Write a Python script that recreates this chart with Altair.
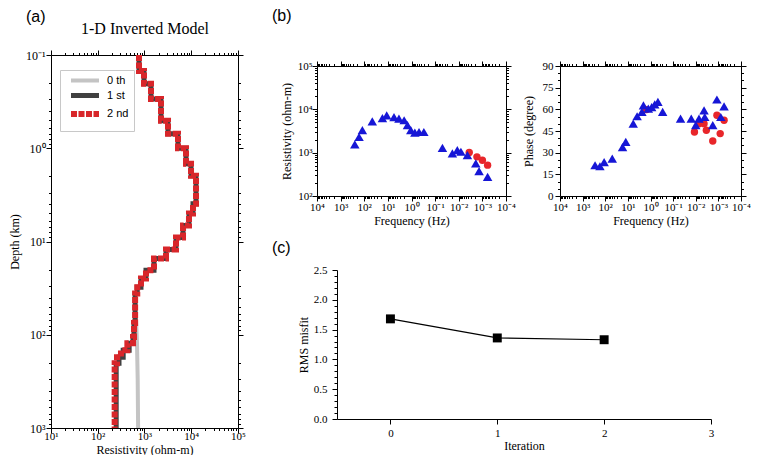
import altair as alt
import pandas as pd

# ---------------- (a) 1-D inverted model ----------------
layer_tops_km = [0.1, 0.148, 0.204, 0.296, 0.508, 0.70, 1.0, 1.47, 1.97, 3.93,
                 5.02, 6.75, 9.06, 12.2, 15.2, 20.4, 24.9, 31.0, 36.0, 75.0,
                 106.0, 123.0, 147.0, 174.0, 202.0]
model_bottom_km = 1000.0
res_2nd = [763, 975, 1377, 2254, 3184, 5208, 7730, 9890, 12650, 10900,
           8940, 6670, 4720, 2885, 1596, 1076, 841, 700, 630, 596,
           568, 430, 314, 258, 230]
res_1st = [763, 975, 1377, 2254, 3184, 5208, 7730, 9890, 12650, 10900,
           8940, 6670, 4720, 2885, 1596, 1076, 841, 700, 630, 596,
           568, 470, 350, 285, 248]
depth_0th = [60, 120, 300, 1000]
res_0th = [650, 690, 715, 730]
model_names = ["0 th", "1 st", "2 nd"]

# ---------------- (b) apparent resistivity and phase ----------------
rho_tri_freq = [251, 166, 120, 45.7, 17, 11.2, 5.5, 3.4, 2.05, 1.48, 1.07, 0.72,
                0.48, 0.30, 0.049, 0.0186, 0.0115, 0.0081, 0.0043, 0.0019, 0.00138, 0.0006]
rho_tri_val = [1550, 2300, 3300, 5250, 6300, 7250, 6600, 6100, 5600, 4300, 3300, 2900,
               3000, 3000, 1290, 960, 1140, 1050, 875, 565, 375, 277]
rho_dot_freq = [0.0036, 0.0017, 0.001, 0.0006]
rho_dot_val = [1010, 800, 670, 515]

ph_tri_freq = [282, 172, 112, 49, 17.2, 12.4, 5.8, 3.9, 2.4, 2.05, 1.25, 0.89, 0.65,
               0.47, 0.29, 0.047, 0.0158, 0.01, 0.0072, 0.0043, 0.004, 0.00177,
               0.00116, 0.00056, 0.00078]
ph_tri_val = [21.3, 20.6, 23.5, 25.9, 33.9, 37.4, 50.1, 55.2, 58.2, 62.8, 60.5, 61.6, 63.5,
              65.1, 58.2, 53.6, 53.6, 49.0, 53.6, 59.3, 54.7, 49.0, 66.8, 62.1, 54.7]
ph_dot_freq = [1.5, 0.0114, 0.0072, 0.0043, 0.0034, 0.00177, 0.00116, 0.00083, 0.00056]
ph_dot_val = [59.8, 44.3, 50.1, 50.1, 45.5, 38.1, 55.9, 43.2, 52.4]

# ---------------- (c) RMS misfit ----------------
iteration = [0, 1, 2]
rms_misfit = [1.68, 1.36, 1.33]

# tick definitions
a_res_decades = [1, 2, 3, 4, 5]
a_depth_decades = [-1, 0, 1, 2, 3]
b_freq_decades = [-4, -3, -2, -1, 0, 1, 2, 3, 4]
b_rho_decades = [2, 3, 4, 5]


def log_ticks(decades):
    vals = []
    for e in decades[:-1]:
        for k in range(1, 10):
            vals.append(k * 10.0 ** e)
    vals.append(10.0 ** decades[-1])
    return vals


SERIF = "Liberation Serif"
SANS = "Liberation Sans"
EXP = "round(log(datum.value)/LN10)"
LOGTEST = f"abs(log(datum.value)/LN10 - {EXP}) < 0.001"
LOGLAB = (f"{LOGTEST} ? '10' + ({EXP} < 0 ? '\u207b' : '') + "
          f"substring('\u2070\u00b9\u00b2\u00b3\u2074\u2075', abs({EXP}), abs({EXP}) + 1) : ''")
TS_LOG = {"condition": {"test": LOGTEST, "value": 5}, "value": 2.5}


def log_axis(orient, values, title=None, labels=True, title_pad=4, label_pad=1, fs=11):
    kw = dict(orient=orient, values=values, tickSize=TS_LOG, labels=labels,
              grid=False, labelFlush=False, labelOverlap=False, labelPadding=label_pad,
              titlePadding=title_pad, title=title, labelFontSize=fs)
    if labels:
        kw["labelExpr"] = LOGLAB
    return alt.Axis(**kw)


# ---------- panel (a) ----------
rows = []
for i, (d, r) in enumerate(zip(depth_0th, res_0th)):
    rows.append({"model": "0 th", "res": r, "depth": d, "ord": i})
bounds = layer_tops_km + [model_bottom_km]
for name, res in (("1 st", res_1st), ("2 nd", res_2nd)):
    k = 0
    for i, r in enumerate(res):
        for d in (bounds[i], bounds[i + 1]):
            rows.append({"model": name, "res": r, "depth": d, "ord": k})
            k += 1
df_a = pd.DataFrame(rows)

xa = alt.Scale(type="log", domain=[10, 100000], nice=False)
ya = alt.Scale(type="log", domain=[0.1, 1000], reverse=True, nice=False)
cs = alt.Scale(domain=model_names, range=["#c4c4c4", "#404040", "#d8262a"])
ds = alt.Scale(domain=model_names, range=[[1, 0], [1, 0], [6, 1.5]])
ws = alt.Scale(domain=model_names, range=[4, 6, 4])
leg = alt.Legend(title=None, orient="none", legendX=9, legendY=15,
                 strokeColor="#c8c8c8", fillColor="white", padding=5,
                 symbolType="M0,0H9.33", symbolSize=36, labelFont=SANS,
                 labelFontSize=11, rowPadding=-4, labelOffset=30)

xt_a = log_ticks(a_res_decades)
yt_a = log_ticks(a_depth_decades)


def model_layer(name, xaxis, yaxis):
    return alt.Chart(df_a).transform_filter(alt.datum.model == name).mark_line().encode(
        x=alt.X("res:Q", scale=xa, axis=xaxis),
        y=alt.Y("depth:Q", scale=ya, axis=yaxis),
        order="ord:Q",
        color=alt.Color("model:N", scale=cs, legend=leg),
        strokeDash=alt.StrokeDash("model:N", scale=ds, legend=leg),
        strokeWidth=alt.StrokeWidth("model:N", scale=ws, legend=leg),
    )


ax_a_top = alt.Axis(orient="top", values=xt_a, tickSize=TS_LOG, labels=False, grid=False,
                    title="1-D Inverted Model", titlePadding=13, titleFontSize=16)
a_chart = alt.layer(
    model_layer("0 th", log_axis("bottom", xt_a, "Resistivity (ohm-m)", title_pad=3, label_pad=-3, fs=11),
                log_axis("left", yt_a, "Depth (km)", title_pad=4, label_pad=1, fs=12)),
    model_layer("1 st", ax_a_top, log_axis("right", yt_a, labels=False)),
    model_layer("2 nd", None, None),
).resolve_axis(x="independent", y="independent").properties(
    width=187, height=373,
    title=alt.TitleParams("(a)", anchor="start", frame="group", dx=-25, offset=-4))

# ---------- panel (b) ----------
df_rt = pd.DataFrame({"f": rho_tri_freq, "v": rho_tri_val})
df_rd = pd.DataFrame({"f": rho_dot_freq, "v": rho_dot_val})
df_pt = pd.DataFrame({"f": ph_tri_freq, "v": ph_tri_val})
df_pd = pd.DataFrame({"f": ph_dot_freq, "v": ph_dot_val})

xb = alt.Scale(type="log", domain=[1e-4, 1e4], reverse=True, nice=False)
yb = alt.Scale(type="log", domain=[100, 100000], nice=False)
yp = alt.Scale(domain=[0, 90], nice=False)
xt_b = log_ticks(b_freq_decades)
yt_b = log_ticks(b_rho_decades)
ph_ticks = list(range(0, 91, 5))
TS_PH = {"condition": {"test": "datum.value % 15 == 0", "value": 5}, "value": 2.5}

RED = "#e8262a"
BLUE = "#1616d6"

b1 = alt.layer(
    alt.Chart(df_rd).mark_point(shape="circle", filled=True, color=RED, size=55, opacity=1).encode(
        x=alt.X("f:Q", scale=xb, axis=log_axis("bottom", xt_b, "Frequency (Hz)", title_pad=3, label_pad=0)),
        y=alt.Y("v:Q", scale=yb, axis=log_axis("left", yt_b, "Resistivity (ohm-m)", title_pad=4, label_pad=0))),
    alt.Chart(df_rt).mark_point(shape="triangle-up", filled=True, color=BLUE, size=90, opacity=1).encode(
        x=alt.X("f:Q", scale=xb, axis=log_axis("top", xt_b, labels=False)),
        y=alt.Y("v:Q", scale=yb, axis=log_axis("right", yt_b, labels=False))),
).resolve_axis(x="independent", y="independent").properties(width=189, height=130)

ph_left = alt.Axis(orient="left", values=ph_ticks, tickSize=TS_PH, grid=False,
                   labelExpr="datum.value % 15 == 0 ? datum.label : ''",
                   labelFlush=False, labelOverlap=False, labelPadding=2,
                   title="Phase (degree)", titlePadding=7)
ph_right = alt.Axis(orient="right", values=ph_ticks, tickSize=TS_PH, grid=False,
                    labels=False, title=None)
b2 = alt.layer(
    alt.Chart(df_pd).mark_point(shape="circle", filled=True, color=RED, size=55, opacity=1).encode(
        x=alt.X("f:Q", scale=xb, axis=log_axis("bottom", xt_b, "Frequency (Hz)", title_pad=3, label_pad=0)),
        y=alt.Y("v:Q", scale=yp, axis=ph_left)),
    alt.Chart(df_pt).mark_point(shape="triangle-up", filled=True, color=BLUE, size=90, opacity=1).encode(
        x=alt.X("f:Q", scale=xb, axis=log_axis("top", xt_b, labels=False)),
        y=alt.Y("v:Q", scale=yp, axis=ph_right)),
).resolve_axis(x="independent", y="independent").properties(width=181, height=130)

# ---------- panel (c) ----------
df_c = pd.DataFrame({"it": iteration, "rms": rms_misfit})
c_y_ticks = [round(i * 0.1, 1) for i in range(26)]
MAJ_C = "abs(datum.value*2 - round(datum.value*2)) < 0.001"
c_xaxis = alt.Axis(values=[0, 1, 2, 3], format="d", title="Iteration", tickSize=5,
                   grid=False, labelFlush=False, labelPadding=3, titlePadding=2)
c_yaxis = alt.Axis(values=c_y_ticks, grid=False, labelFlush=False, labelOverlap=False,
                   tickSize={"condition": {"test": MAJ_C, "value": 5}, "value": 3},
                   labelExpr=f"{MAJ_C} ? format(datum.value, '.1f') : ''",
                   title="RMS misfit", titlePadding=3, labelPadding=5)
c_base = alt.Chart(df_c).encode(
    x=alt.X("it:Q", scale=alt.Scale(domain=[-0.5, 3], nice=False), axis=c_xaxis),
    y=alt.Y("rms:Q", scale=alt.Scale(domain=[0, 2.5], nice=False), axis=c_yaxis),
)
c_chart = alt.layer(
    c_base.mark_line(color="black", strokeWidth=1.2),
    c_base.mark_point(shape="square", filled=True, color="black", size=80, opacity=1),
).properties(width=374, height=149,
             title=alt.TitleParams("(c)", anchor="start", frame="group", dx=-65, offset=8))

# ---------- layout helpers (empty spacer views) ----------
df_sp = pd.DataFrame({"t": [0]})


def spacer(w, h, title=None):
    ch = alt.Chart(df_sp).mark_rule(strokeWidth=0, opacity=0).encode(
        x=alt.value(0), x2=alt.value(0), y=alt.value(0), y2=alt.value(0)
    ).properties(width=w, height=h)
    if title is not None:
        ch = ch.properties(title=title)
    return ch


spacer_b = spacer(10, 5, alt.TitleParams("(b)", anchor="start", frame="group", dx=-45, offset=31))
spacer_mid = spacer(10, 14)
spacer_c = spacer(20, 10)

b_row = alt.hconcat(b1, b2, spacing=6)
c_row = alt.hconcat(spacer_c, c_chart, spacing=0, bounds="flush")
right = alt.vconcat(spacer_b, b_row, spacer_mid, c_row, spacing=0)
chart = alt.hconcat(a_chart, right, spacing=26).properties(padding=0).configure_view(
    stroke=None
).configure_axis(
    labelFont=SERIF, titleFont=SERIF, labelFontSize=11, titleFontSize=12,
    titleFontWeight="normal", labelColor="black", titleColor="black",
    domainColor="black", tickColor="black", domainWidth=1, tickWidth=1,
).configure_title(
    font=SANS, fontSize=16, fontWeight="normal", color="black",
)

chart.save("out.html", embed_options={"renderer": "svg", "actions": False})
